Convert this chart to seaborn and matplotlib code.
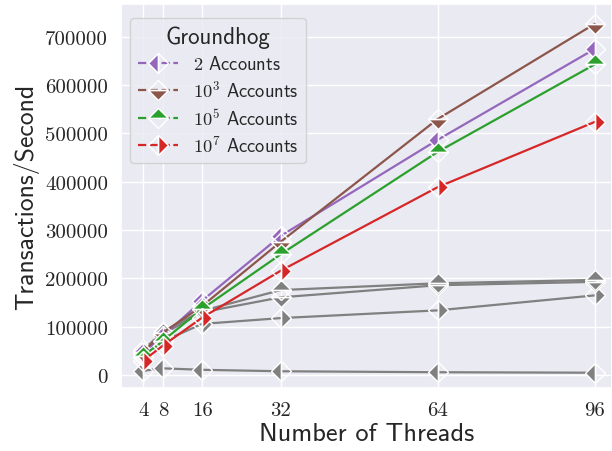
import matplotlib
matplotlib.use("Agg")
import matplotlib.pyplot as plt
from matplotlib.lines import Line2D
import seaborn as sns

# Daten
threads = [4, 8, 16, 32, 64, 96]

acc_2 = [47000, 81000, 154000, 288000, 487000, 675000]
acc_1e3 = [48000, 88000, 143000, 276000, 530000, 727000]
acc_1e5 = [40000, 71000, 137000, 250000, 462000, 643000]
acc_1e7 = [30000, 61000, 119000, 216000, 389000, 524000]

gray_top = [52000, 90000, 133000, 176000, 190000, 197000]
gray_bottom = [46000, 85000, 130000, 161000, 186000, 193000]
gray_right = [38000, 70000, 106000, 118000, 134000, 165000]
gray_left = [9000, 14000, 11000, 8000, 6000, 5000]

labels = ["$2$ Accounts", "$10^3$ Accounts", "$10^5$ Accounts", "$10^7$ Accounts"]
colors = ["#9467bd", "#8c564b", "#2ca02c", "#d62728"]
fills = ["left", "bottom", "top", "right"]

sns.set_theme(style="darkgrid")
plt.rcParams["mathtext.fontset"] = "cm"

fig = plt.figure(figsize=(6.12, 4.52), dpi=100)
ax = fig.add_axes([0.198, 0.139, 0.802, 0.85])

common = dict(marker="D", markersize=10, markeredgecolor="white",
              markeredgewidth=1.0, linewidth=1.6)

# graue Vergleichskurven zuerst
for ys, fs in [(gray_left, "left"), (gray_right, "right"),
               (gray_bottom, "bottom"), (gray_top, "top")]:
    sns.lineplot(x=threads, y=ys, color="#808080", fillstyle=fs, ax=ax, **common)

for ys, c, fs in zip([acc_2, acc_1e3, acc_1e5, acc_1e7], colors, fills):
    sns.lineplot(x=threads, y=ys, color=c, fillstyle=fs, ax=ax, **common)

ax.set_xticks(threads)
ax.set_yticks(range(0, 700001, 100000))
ax.set_ylim(-27000, 768000)
ax.set_xlim(-0.5, 99.5)
ax.tick_params(labelfontfamily="cmr10", labelsize=15)

ax.set_xlabel("Number of Threads", fontfamily="cmss10", fontsize=19, labelpad=2)
ax.set_ylabel("Transactions/Second", fontfamily="cmss10", fontsize=18.5, labelpad=4)

handles = [Line2D([], [], color=c, linestyle="--", fillstyle=fs, **common)
           for c, fs in zip(colors, fills)]
leg = ax.legend(handles, labels, title="Groundhog", loc="upper left",
                bbox_to_anchor=(0.0, 0.987),
                prop={"family": "cmss10", "size": 13.3},
                title_fontproperties={"family": "cmss10", "size": 16.5},
                frameon=True, handlelength=2.2, labelspacing=0.38)
leg.get_frame().set_edgecolor("#cccccc")

fig.savefig("out.png", dpi=100)
